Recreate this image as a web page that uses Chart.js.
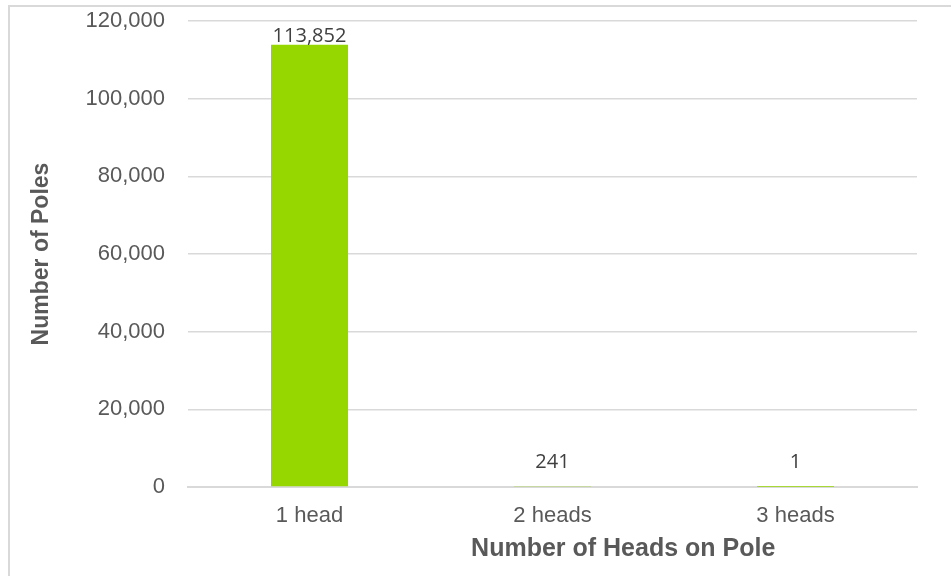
<!DOCTYPE html>
<html>
<head>
<meta charset="utf-8">
<script src="https://cdn.jsdelivr.net/npm/chart.js@4/dist/chart.umd.min.js"></script>
<style>
    body { margin: 0; background: #fff; }
    #wrap { position: relative; width: 951px; height: 576px; overflow: hidden; }
    #frame { position: absolute; left: 8px; top: 5px; width: 1000px; height: 1000px; border-left: 2px solid #d9d9d9; border-top: 2px solid #d9d9d9; }
    canvas { position: absolute; left: 0; top: 0; }
</style>
</head>
<body>
<div id="wrap">
    <div id="frame"></div>
    <canvas id="polesChart" width="951" height="576"></canvas>
</div>
<script>
    const categories = ['1 head', '2 heads', '3 heads'];
    const poleCounts = [113852, 241, 1];
    const yTicks = [0, 20000, 40000, 60000, 80000, 100000, 120000];

    const axisColor = '#595959';

    // value labels above each bar
    const barLabels = {
        id: 'barLabels',
        afterDatasetsDraw(chart) {
            const ctx = chart.ctx;
            const meta = chart.getDatasetMeta(0);
            ctx.save();
            ctx.font = '20px "Open Sans"';
            ctx.fillStyle = '#404040';
            ctx.textAlign = 'center';
            ctx.textBaseline = 'alphabetic';
            meta.data.forEach(function (bar, i) {
                const y = Math.min(bar.y - 3, chart.chartArea.bottom - 19);
                ctx.fillText(poleCounts[i].toLocaleString('en-US'), bar.x, y);
            });
            ctx.restore();
        }
    };

    // x-axis title sits a bit right of centre in the reference
    const xTitle = {
        id: 'xTitle',
        afterDraw(chart) {
            const ctx = chart.ctx;
            const area = chart.chartArea;
            ctx.save();
            ctx.font = 'bold 25px "Liberation Sans"';
            ctx.fillStyle = axisColor;
            ctx.textAlign = 'center';
            ctx.textBaseline = 'middle';
            ctx.fillText('Number of Heads on Pole', area.left + (area.right - area.left) * 0.597, area.bottom + 62);
            ctx.restore();
        }
    };

    new Chart(document.getElementById('polesChart'), {
        type: 'bar',
        data: {
            labels: categories,
            datasets: [{
                label: 'Number of Poles',
                data: poleCounts,
                backgroundColor: '#97d700',
                categoryPercentage: 1,
                barPercentage: 0.317
            }]
        },
        options: {
            responsive: false,
            animation: false,
            layout: { padding: { top: 21, right: 34, bottom: 0, left: 0 } },
            plugins: {
                legend: { display: false },
                tooltip: { enabled: false }
            },
            scales: {
                x: {
                    grid: { display: false },
                    border: { color: '#d9d9d9', width: 2 },
                    ticks: { color: axisColor, font: { family: 'Liberation Sans', size: 22 }, padding: 8 },
                    afterFit: function (scale) { scale.height = 89; }
                },
                y: {
                    min: 0,
                    max: 120000,
                    afterBuildTicks: function (scale) { scale.ticks = yTicks.map(v => ({ value: v })); },
                    grid: { color: '#d9d9d9', lineWidth: 1.5, drawTicks: false },
                    border: { display: false },
                    ticks: {
                        color: axisColor,
                        font: { family: 'Liberation Sans', size: 22 },
                        padding: 23,
                        callback: v => v.toLocaleString('en-US')
                    },
                    title: {
                        display: true,
                        text: 'Number of Poles',
                        color: axisColor,
                        font: { family: 'Liberation Sans', size: 23, weight: 'bold' },
                        padding: { top: 28, bottom: 0 }
                    },
                    afterFit: function (scale) {
                        scale.width = 188;
                        scale.paddingTop = 0;
                        scale.paddingBottom = 0;
                    }
                }
            }
        },
        plugins: [barLabels, xTitle]
    });
</script>
</body>
</html>
